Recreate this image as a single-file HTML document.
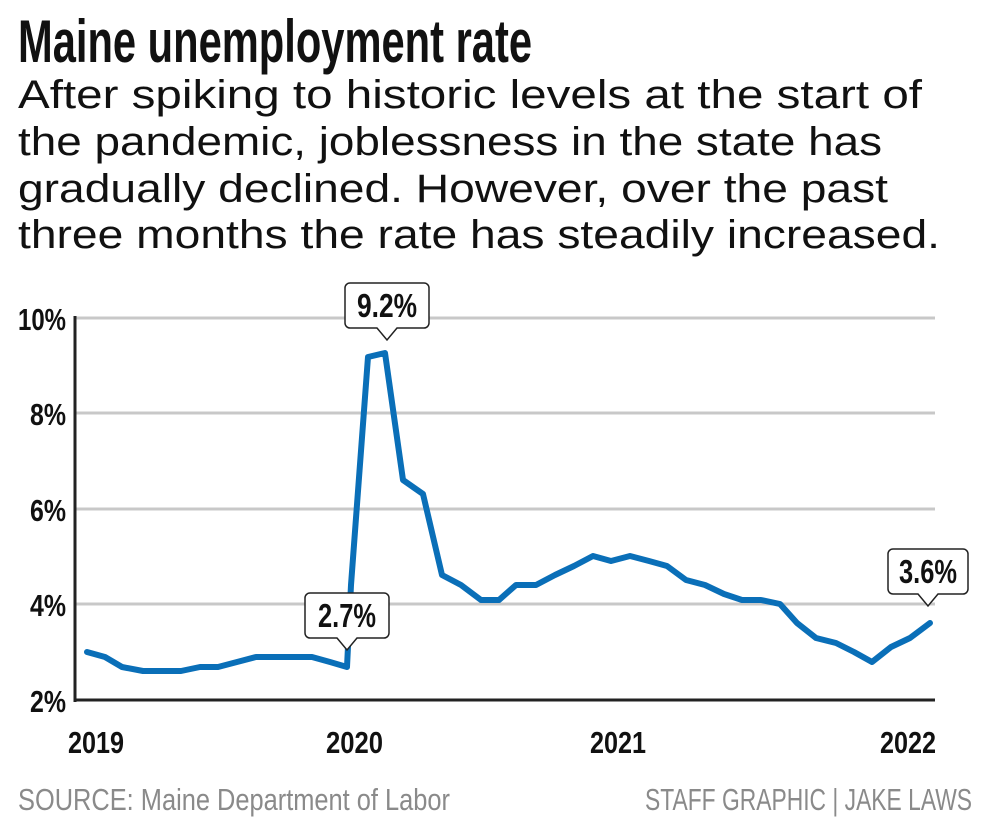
<!DOCTYPE html>
<html><head><meta charset="utf-8"><style>
html,body{margin:0;padding:0;background:#fff;}
svg{display:block;}
</style></head><body>
<svg width="988" height="826" viewBox="0 0 988 826" xmlns="http://www.w3.org/2000/svg" font-family="Liberation Sans Narrow, Liberation Sans, sans-serif">
<text x="18" y="62" font-size="60" font-weight="bold" textLength="514" lengthAdjust="spacingAndGlyphs" fill="#111">Maine unemployment rate</text>
<g font-family="Liberation Sans, sans-serif" font-size="40" fill="#111">
<text x="18" y="108" textLength="904" lengthAdjust="spacingAndGlyphs">After spiking to historic levels at the start of</text>
<text x="18" y="155" textLength="864" lengthAdjust="spacingAndGlyphs">the pandemic, joblessness in the state has</text>
<text x="18" y="202" textLength="870" lengthAdjust="spacingAndGlyphs">gradually declined. However, over the past</text>
<text x="18" y="248" textLength="922" lengthAdjust="spacingAndGlyphs">three months the rate has steadily increased.</text>
</g>
<g stroke="#c8c8c8" stroke-width="3">
<line x1="75" y1="318" x2="935" y2="318"/>
<line x1="75" y1="413" x2="935" y2="413"/>
<line x1="75" y1="509" x2="935" y2="509"/>
<line x1="75" y1="604" x2="935" y2="604"/>
</g>
<line x1="75" y1="700" x2="935" y2="700" stroke="#222" stroke-width="3"/>
<line x1="75" y1="316" x2="75" y2="702" stroke="#222" stroke-width="3"/>
<g font-size="31" font-weight="bold" fill="#111">
<text x="18" y="330" textLength="48" lengthAdjust="spacingAndGlyphs">10%</text>
<text x="30" y="425" textLength="36" lengthAdjust="spacingAndGlyphs">8%</text>
<text x="30" y="521" textLength="36" lengthAdjust="spacingAndGlyphs">6%</text>
<text x="30" y="616" textLength="36" lengthAdjust="spacingAndGlyphs">4%</text>
<text x="30" y="712" textLength="36" lengthAdjust="spacingAndGlyphs">2%</text>
<text x="68" y="753" textLength="56" lengthAdjust="spacingAndGlyphs">2019</text>
<text x="326" y="753" textLength="57" lengthAdjust="spacingAndGlyphs">2020</text>
<text x="590" y="753" textLength="56" lengthAdjust="spacingAndGlyphs">2021</text>
<text x="880" y="753" textLength="56" lengthAdjust="spacingAndGlyphs">2022</text>
</g>
<polyline fill="none" stroke="#0a6fb8" stroke-width="6" stroke-linejoin="round" stroke-linecap="round" points="
87,652 105,657 122,667 143,671 162,671 181,671 200,667 218,667 237,662 256,657 275,657 293,657 312,657 330,662 347,667 351,585 368,357 385,353 403,480 423,494 442,575 461,585 481,600 499,600 516,585 536,585 555,575 574,566 593,556 611,561 630,556 649,561 667,566 686,580 705,585 724,594 742,600 761,600 780,604 797,623 816,638 836,643 854,652 872,662 891,647 910,638 930,623"/>
<g fill="#fff" stroke="#222" stroke-width="1.5">
<path d="M350,283 H424 a5,5 0 0 1 5,5 V323 a5,5 0 0 1 -5,5 H397 L387,340 L377,328 H350 a5,5 0 0 1 -5,-5 V288 a5,5 0 0 1 5,-5 Z"/>
<path d="M310,593 H384 a5,5 0 0 1 5,5 V633 a5,5 0 0 1 -5,5 H357 L347,650 L337,638 H310 a5,5 0 0 1 -5,-5 V598 a5,5 0 0 1 5,-5 Z"/>
<path d="M893,549 H963 a5,5 0 0 1 5,5 V589 a5,5 0 0 1 -5,5 H938 L928,606 L918,594 H893 a5,5 0 0 1 -5,-5 V554 a5,5 0 0 1 5,-5 Z"/>
</g>
<g font-size="33" font-weight="bold" fill="#111">
<text x="357" y="317" textLength="60" lengthAdjust="spacingAndGlyphs">9.2%</text>
<text x="318" y="627" textLength="58" lengthAdjust="spacingAndGlyphs">2.7%</text>
<text x="899" y="583" textLength="58" lengthAdjust="spacingAndGlyphs">3.6%</text>
</g>
<g font-size="31" fill="#8a8a8a">
<text x="18" y="810" textLength="432" lengthAdjust="spacingAndGlyphs">SOURCE: Maine Department of Labor</text>
<text x="645" y="810" textLength="327" lengthAdjust="spacingAndGlyphs">STAFF GRAPHIC | JAKE LAWS</text>
</g>
</svg>
</body></html>
